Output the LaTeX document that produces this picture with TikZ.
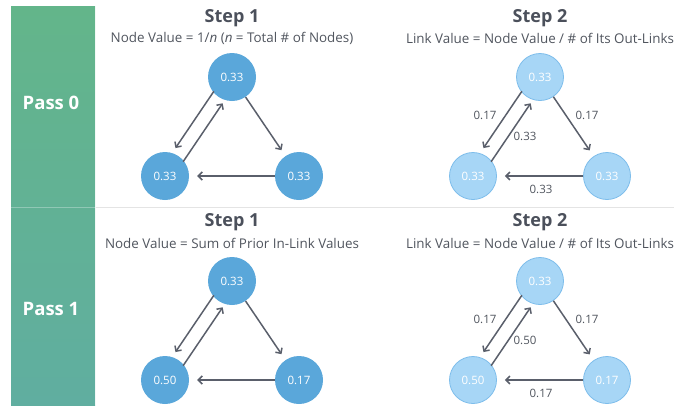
\documentclass[tikz,border=0pt]{standalone}
\usepackage{fontspec}
\setmainfont{Open Sans}
\usetikzlibrary{calc,arrows.meta}

\definecolor{ink}{HTML}{4B505B}
\definecolor{subink}{HTML}{50555E}
\definecolor{arrowgray}{HTML}{5A5F6B}
\definecolor{nodeblue}{HTML}{5AA7DA}
\definecolor{paleblue}{HTML}{A7D6F6}
\definecolor{paleedge}{HTML}{7DBDEB}
\definecolor{bandtop}{HTML}{63B58A}
\definecolor{bandbot}{HTML}{60AEA0}
\definecolor{rule}{HTML}{E4E4E4}

\tikzset{
  dot/.style={circle, minimum size=48pt, inner sep=0pt, fill=nodeblue,
    text=white, font=\fontsize{11.5}{13}\selectfont},
  pale/.style={dot, fill=paleblue, draw=paleedge, line width=0.8pt, minimum size=47pt},
  link/.style={draw=arrowgray, line width=1.5pt,
    -{Straight Barb[length=4pt,width=8pt]}},
  steptitle/.style={text=ink, font=\bfseries\fontsize{18}{21}\selectfont},
  stepsub/.style={text=subink, font=\fontsize{13.4}{15}\selectfont},
  passlabel/.style={text=white, font=\bfseries\fontsize{18.5}{22}\selectfont},
  linklabel/.style={text=subink, font=\fontsize{11.5}{13}\selectfont, inner sep=0pt},
}

% three-node cycle: prefix, top x, top y, node style, top/left/right values
\newcommand\trio[7]{%
  \node[#4] (#1t) at (#2,#3) {#5};
  \node[#4] (#1l) at ({#2-67},{#3+99}) {#6};
  \node[#4] (#1r) at ({#2+67},{#3+99}) {#7};
  \draw[link, shorten <=22pt, shorten >=29pt]
    ($(#1t)!7pt!-90:(#1l)$) -- ($(#1l)!7pt!90:(#1t)$);
  \draw[link, shorten <=22pt, shorten >=27pt]
    ($(#1l)!7pt!-90:(#1t)$) -- ($(#1t)!7pt!90:(#1l)$);
  \draw[link, shorten >=7pt] (#1t) -- (#1r);
  \draw[link, shorten >=8pt] (#1r) -- (#1l);
}

% link values printed beside the arrows of a cycle
\newcommand\linkvals[5]{%
  \node[linklabel] (#1a) at ($(#1t)+(-55,38)$) {#2};
  \node[linklabel] (#1b) at ($(#1t)+(47,38)$) {#3};
  \node[linklabel] (#1c) at ($(#1t)+(-15,59)$) {#4};
  \node[linklabel] (#1d) at ($(#1t)+(1,112)$) {#5};
}

\begin{document}
\begin{tikzpicture}[x=1pt, y=-1pt]
  \useasboundingbox (0,0) rectangle (674,405);

  % side band with pass labels
  \shade[top color=bandtop, bottom color=bandbot] (11,6) rectangle (95,405);
  \draw[white, opacity=0.35, line width=0.8pt] (95,6) -- (95,405);
  \draw[white, opacity=0.3, line width=1.5pt] (11,207.5) -- (95,207.5);
  \draw[rule, line width=1.5pt] (95.5,207.5) -- (674,207.5);
  \node[passlabel] (pass0) at (51,103) {Pass 0};
  \node[passlabel] (pass1) at (51,309) {Pass 1};

  % pass 0
  \node[steptitle] (p0s1) at (232,18) {Step 1};
  \node[stepsub] (p0s1sub) at (232,38) {Node Value = 1/\textit{n} (\textit{n} = Total \# of Nodes)};
  \node[steptitle] (p0s2) at (540,18) {Step 2};
  \node[stepsub] (p0s2sub) at (540,38) {Link Value = Node Value / \# of Its Out-Links};
  \trio{a}{232}{77}{dot}{0.33}{0.33}{0.33}
  \trio{b}{540}{77}{pale}{0.33}{0.33}{0.33}
  \linkvals{b}{0.17}{0.17}{0.33}{0.33}

  % pass 1
  \node[steptitle] (p1s1) at (232,222) {Step 1};
  \node[stepsub] (p1s1sub) at (232,243) {Node Value = Sum of Prior In-Link Values};
  \node[steptitle] (p1s2) at (540,222) {Step 2};
  \node[stepsub] (p1s2sub) at (540,243) {Link Value = Node Value / \# of Its Out-Links};
  \trio{c}{232}{281}{dot}{0.33}{0.50}{0.17}
  \trio{d}{540}{281}{pale}{0.33}{0.50}{0.17}
  \linkvals{d}{0.17}{0.17}{0.50}{0.17}
\end{tikzpicture}
\end{document}
